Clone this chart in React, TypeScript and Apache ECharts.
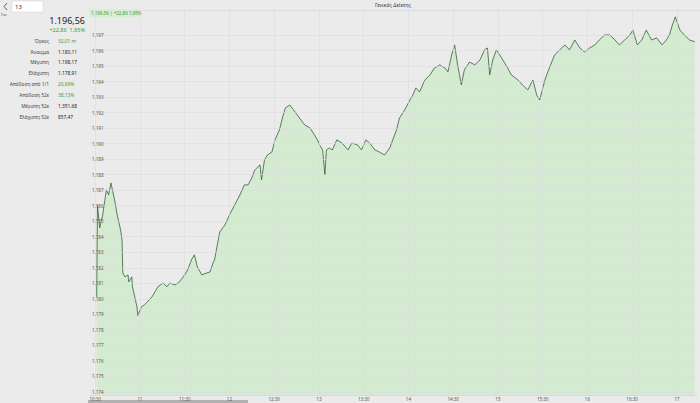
import React, { useEffect, useRef } from 'react';
import * as echarts from 'echarts';

const times = [
  '10:31:00','10:31:30','10:33:00','10:35:00','10:37:30','10:39:00','10:40:30','10:43:00',
  '10:45:00','10:47:00','10:48:00','10:48:30','10:50:00','10:52:00','10:52:30','10:54:30','10:55:00','10:58:00',
  '10:58:30','11:01:00','11:03:00','11:05:00','11:08:00','11:10:00','11:12:00','11:15:30','11:18:00','11:20:00',
  '11:23:30','11:26:30','11:30:00','11:32:00','11:34:30','11:36:30','11:38:30','11:41:30','11:45:00','11:47:00',
  '11:49:00','11:50:00','11:53:30','11:57:00','12:00:00','12:03:30','12:07:00','12:10:00','12:12:30','12:15:00',
  '12:17:00','12:20:30','12:21:30','12:23:30','12:25:30','12:28:30','12:30:30','12:33:30','12:35:30','12:37:30',
  '12:40:30','12:44:00','12:47:00','12:50:30','12:54:00','12:57:00','12:59:00','13:00:30','13:02:30','13:04:00',
  '13:05:00','13:07:00','13:09:00','13:12:00','13:15:30','13:19:30','13:22:00','13:26:00','13:28:30','13:31:30',
  '13:34:00','13:37:30','13:40:30','13:44:00','13:47:30','13:49:30','13:52:00','13:54:00','13:57:30','14:01:00',
  '14:03:00','14:05:00','14:07:30','14:11:00','14:14:30','14:17:30','14:21:00','14:24:30','14:26:30','14:29:00',
  '14:31:00','14:33:00','14:35:30','14:37:30','14:41:00','14:44:30','14:48:00','14:51:00','14:53:00','14:54:30',
  '14:56:30','14:59:00','15:02:30','15:06:30','15:09:00','15:13:30','15:16:30','15:20:00','15:23:30','15:26:00',
  '15:28:00','15:31:30','15:34:30','15:38:00','15:41:30','15:45:00','15:48:00','15:51:30','15:55:00','15:58:00',
  '16:01:30','16:05:00','16:08:00','16:11:30','16:15:00','16:18:30','16:21:30','16:25:00','16:28:30','16:30:30',
  '16:33:30','16:36:30','16:39:30','16:43:00','16:46:30','16:50:00','16:53:00','16:55:00','16:57:00','16:59:00',
  '17:02:00','17:05:00','17:08:30','17:12:00'
];

const values = [
  1180.11,1186.05,1184.57,1185.40,1187.02,1186.69,1187.47,1186.37,
  1185.28,1184.44,1183.79,1181.67,1181.41,1181.54,1181.09,1181.41,1180.77,1179.48,
  1178.91,1179.48,1179.61,1179.80,1180.12,1180.44,1180.77,1181.02,1180.77,1181.02,
  1180.89,1181.09,1181.54,1181.86,1182.51,1182.83,1182.05,1181.54,1181.67,1181.73,
  1182.31,1182.51,1184.31,1184.76,1185.40,1186.05,1186.69,1187.34,1187.34,1187.79,
  1188.30,1188.63,1187.66,1188.95,1189.27,1189.46,1190.24,1190.88,1191.65,1192.30,
  1192.49,1192.04,1191.65,1191.20,1191.01,1190.56,1190.24,1189.91,1189.59,1187.98,
  1189.59,1189.72,1189.59,1190.24,1190.04,1189.59,1190.04,1189.91,1189.59,1190.24,
  1190.04,1189.59,1189.46,1189.27,1189.72,1190.24,1190.88,1191.65,1192.17,1192.81,
  1193.14,1193.59,1193.33,1194.10,1194.43,1194.88,1195.07,1194.88,1194.62,1195.71,
  1196.36,1195.07,1193.78,1194.75,1195.26,1195.07,1195.39,1196.04,1196.16,1194.43,
  1195.39,1196.04,1195.52,1194.88,1194.43,1194.10,1193.78,1193.46,1194.10,1193.14,
  1192.81,1194.10,1194.88,1195.71,1196.04,1196.36,1196.04,1196.68,1196.16,1195.91,
  1196.16,1196.36,1196.68,1197.00,1197.00,1196.68,1196.36,1196.68,1197.00,1197.32,
  1196.36,1196.68,1197.32,1196.68,1196.81,1196.36,1196.68,1197.00,1197.65,1198.17,
  1197.32,1197.00,1196.68,1196.56
];

const yTicks = [1174,1175,1176,1177,1178,1179,1180,1181,1182,1183,1184,1185,1186,1187,1188,1189,1190,1191,1192,1193,1194,1195,1196,1197];
const xTicks = ['10:30','11:00','11:30','12:00','12:30','13:00','13:30','14:00','14:30','15:00','15:30','16:00','16:30','17:00'];

const title = 'Γενικός Δείκτης';
const lastPrice = '1.196,56';
const change = '+22,86  1,95%';
const headerBadge = '1.196,56 | +22,86 1,95%';
const statLabels = ['Όγκος','Άνοιγμα','Μέγιστη','Ελάχιστη','Απόδοση από 1/1','Απόδοση 52ε','Μέγιστη 52ε','Ελάχιστη 52ε'];
const statValues = ['32,01 m','1.180,11','1.198,17','1.178,91','20,69%','38,13%','1.351,68','857,47'];
const statGreen = [true,false,false,false,true,true,false,false];

const toMin = (s: string) => {
  const p = s.split(':').map(Number);
  return p[0] * 60 + p[1] + (p[2] || 0) / 60;
};
const fmtX = (v: number) => {
  const h = Math.floor(v / 60);
  const m = Math.round(v - h * 60);
  return m === 0 ? String(h) : `${h}:${String(m).padStart(2, '0')}`;
};
const fmtY = (v: number) => (v / 1000).toFixed(3);

const FONT = 'Noto Sans, Roboto, sans-serif';
const GREEN = '#3f9a3f';

export default function App() {
  const ref = useRef<HTMLDivElement>(null);
  useEffect(() => {
    document.body.style.margin = '0';
    if (!ref.current) return;
    const chart = echarts.init(ref.current, null, { renderer: 'svg' });
    const data = times.map((t, i) => [toMin(t), values[i]]);
    const rowYs = [41, 51.5, 62, 73, 84, 95, 106, 117];
    const graphics: any[] = [
      { type: 'rect', shape: { x: 12, y: 1, width: 31, height: 11 }, style: { fill: '#ffffff', stroke: '#d0d0d0', lineWidth: 0.5 } },
      { type: 'text', x: 15, y: 6.5, style: { text: '13', fill: '#333', font: `6px ${FONT}`, verticalAlign: 'middle' } },
      { type: 'polyline', shape: { points: [[7, 3], [4, 6.5], [7, 10]] }, style: { stroke: '#444', lineWidth: 0.8, fill: 'none' } },
      { type: 'text', x: 1, y: 14.5, style: { text: 'Για', fill: '#555', font: `4px ${FONT}`, verticalAlign: 'middle' } },
      { type: 'text', x: 85, y: 20, style: { text: lastPrice, fill: '#222', font: `9px ${FONT}`, align: 'right', verticalAlign: 'middle' } },
      { type: 'text', x: 85, y: 30, style: { text: change, fill: GREEN, font: `5.5px ${FONT}`, align: 'right', verticalAlign: 'middle' } },
      { type: 'text', x: 393, y: 5, style: { text: title, fill: '#333', font: `5px ${FONT}`, align: 'center', verticalAlign: 'middle' } },
      { type: 'line', shape: { x1: 88, y1: 10.5, x2: 700, y2: 10.5 }, style: { stroke: '#d6d6d6', lineWidth: 0.6 } },
      { type: 'rect', shape: { x: 90, y: 9, width: 50, height: 8 }, style: { fill: '#d8ecd6' } },
      { type: 'text', x: 91, y: 13, style: { text: headerBadge, fill: GREEN, font: `4.5px ${FONT}`, verticalAlign: 'middle' } },
      { type: 'rect', shape: { x: 88, y: 400, width: 160, height: 3 }, style: { fill: '#b0b0b0' } },
    ];
    statLabels.forEach((l, i) => {
      graphics.push({ type: 'text', x: 49, y: rowYs[i], style: { text: l, fill: '#444', font: `4.8px ${FONT}`, align: 'right', verticalAlign: 'middle' } });
      graphics.push({ type: 'text', x: 58, y: rowYs[i], style: { text: statValues[i], fill: statGreen[i] ? GREEN : '#222', font: `4.8px ${FONT}`, verticalAlign: 'middle' } });
    });

    chart.setOption({
      animation: false,
      backgroundColor: '#ebebeb',
      grid: { left: 90, right: 3, top: 10, bottom: 8, containLabel: false },
      xAxis: {
        type: 'value',
        min: 626.5,
        max: 1033.5,
        z: 10,
        axisLine: { show: true, lineStyle: { color: '#cfcfcf', width: 0.6 } },
        axisTick: { show: false, customValues: xTicks.map(toMin) },
        axisLabel: { customValues: xTicks.map(toMin), formatter: fmtX, color: '#555', fontSize: 4.5, fontFamily: FONT, margin: 1 },
        splitLine: { show: true, lineStyle: { color: '#dcdcdc', width: 0.6 } },
      },
      yAxis: {
        type: 'value',
        min: 1173.8,
        max: 1198.61,
        z: 10,
        axisLine: { show: false },
        axisTick: { show: false, customValues: yTicks },
        axisLabel: { inside: true, customValues: yTicks, formatter: fmtY, color: '#555', fontSize: 4.5, fontFamily: FONT, margin: 2 },
        splitLine: { show: true, lineStyle: { color: '#dcdcdc', width: 0.6 } },
      },
      series: [{
        type: 'line',
        data,
        showSymbol: false,
        symbol: 'none',
        lineStyle: { color: '#34613a', width: 0.8 },
        areaStyle: { color: '#d4ebd2', opacity: 1, origin: 'start' },
        z: 1,
      }],
      graphic: graphics,
    });
    return () => chart.dispose();
  }, []);
  return <div ref={ref} style={{ position: 'fixed', left: 0, top: 0, width: 700, height: 403 }} />;
}
